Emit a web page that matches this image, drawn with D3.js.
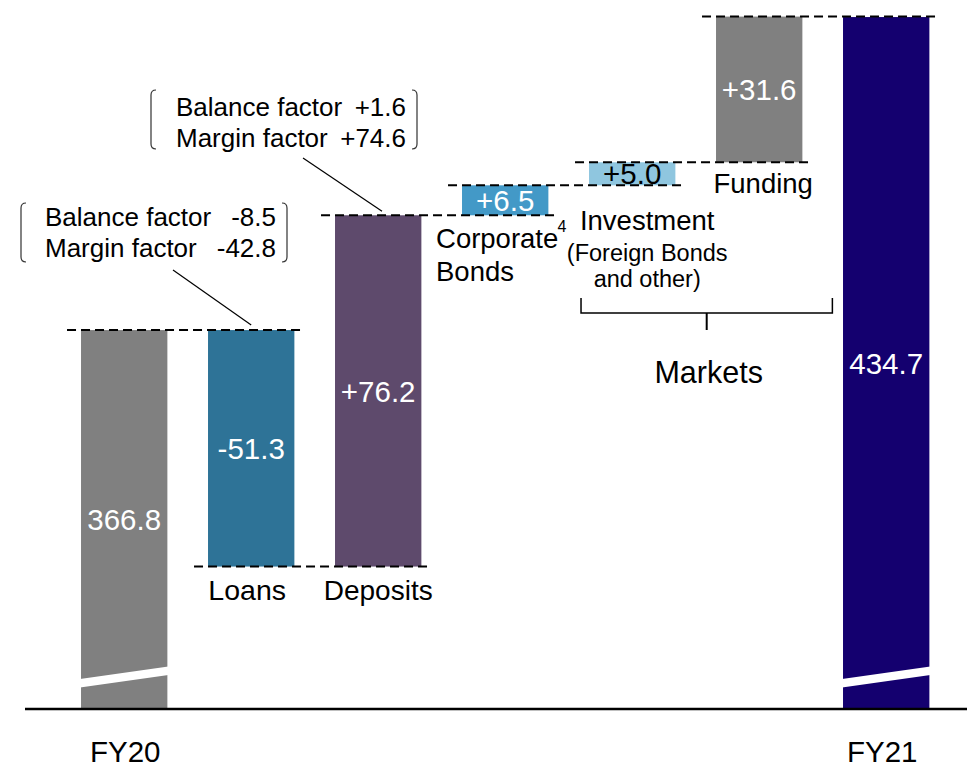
<!DOCTYPE html>
<html>
<head>
<meta charset="utf-8">
<script src="https://cdn.jsdelivr.net/npm/d3@7"></script>
<style>
  html, body { margin: 0; padding: 0; background: #fff; }
  svg { display: block; font-family: "Liberation Sans", Arial, sans-serif; }
</style>
</head>
<body>
<svg id="chart" width="967" height="769"></svg>
<script>
// ---------------- data ----------------
const categories = ["FY20", "Loans", "Deposits", "Corporate Bonds", "Investment", "Funding", "FY21"];
const values = [366.8, -51.3, 76.2, 6.5, 5.0, 31.6, 434.7];
const kinds = ["total", "delta", "delta", "delta", "delta", "delta", "total"];
const valueLabels = ["366.8", "-51.3", "+76.2", "+6.5", "+5.0", "+31.6", "434.7"];
const barColors = ["#808080", "#2e7397", "#5e4a6c", "#4399c7", "#8fc6df", "#808080", "#14006f"];
const valueTextColors = ["#fff", "#fff", "#fff", "#fff", "#000", "#fff", "#fff"];
const loansFactors = [["Balance factor", "-8.5"], ["Margin factor", "-42.8"]];
const depositsFactors = [["Balance factor", "+1.6"], ["Margin factor", "+74.6"]];
const groupLabel = "Markets";

// ---------------- layout ----------------
const svg = d3.select("#chart");
const W = 967, H = 769;
const baselineY = 709;
const axisFloor = 284.6, axisTop = 438.4; // broken axis: bars start from floor

const x = d3.scaleBand().domain(categories).range([60.7, 949.7])
  .paddingInner(0.32).paddingOuter(0.16);
const y = d3.scaleLinear().domain([axisFloor, axisTop]).range([baselineY, 0]);
const bw = x.bandwidth();

// compute start/end for waterfall
let running = 0;
const bars = categories.map((c, i) => {
  let start, end;
  if (kinds[i] === "total") { start = axisFloor; end = values[i]; running = values[i]; }
  else { start = running; end = running + values[i]; running = end; }
  return { cat: c, i, start, end, level: end };
});

// bars
svg.append("g").selectAll("rect").data(bars).join("rect")
  .attr("x", d => x(d.cat))
  .attr("y", d => y(Math.max(d.start, d.end)))
  .attr("width", bw)
  .attr("height", d => Math.abs(y(d.start) - y(d.end)))
  .attr("fill", d => barColors[d.i]);

// axis-break marks on total bars
bars.filter(d => kinds[d.i] === "total").forEach(d => {
  const x0 = x(d.cat) - 1, x1 = x(d.cat) + bw + 1;
  const yl = baselineY - 30, yr = baselineY - 42.5, t = 8.5;
  svg.append("path")
    .attr("d", `M${x0},${yl} L${x1},${yr} L${x1},${yr + t} L${x0},${yl + t} Z`)
    .attr("fill", "#fff");
});

// connectors (dashed)
for (let i = 0; i < bars.length - 1; i++) {
  const lv = y(bars[i].level);
  svg.append("line")
    .attr("x1", x(categories[i]) - 14).attr("x2", x(categories[i + 1]) + bw + 8)
    .attr("y1", lv).attr("y2", lv)
    .attr("stroke", "#000").attr("stroke-width", 2)
    .attr("stroke-dasharray", "9,5");
}

// baseline
svg.append("line").attr("x1", 25).attr("x2", W).attr("y1", baselineY).attr("y2", baselineY)
  .attr("stroke", "#000").attr("stroke-width", 2.5);

// value labels
svg.append("g").selectAll("text").data(bars).join("text")
  .attr("x", d => x(d.cat) + bw / 2)
  .attr("y", d => (y(d.start) + y(d.end)) / 2)
  .attr("dy", "0.36em")
  .attr("text-anchor", "middle")
  .attr("font-size", 29.5)
  .attr("fill", d => valueTextColors[d.i])
  .text(d => valueLabels[d.i]);

// category labels
function label(txt, px, py, size, anchor) {
  return svg.append("text").attr("x", px).attr("y", py)
    .attr("font-size", size).attr("text-anchor", anchor || "middle")
    .attr("fill", "#000").text(txt);
}
const cx = c => x(c) + bw / 2;
label("FY20", cx("FY20") + 1, 762, 29.5);
label("FY21", cx("FY21") - 4, 762, 29.5);
label("Loans", cx("Loans") - 4, 600, 28.5);
label("Deposits", cx("Deposits"), 600, 28);
// Corporate Bonds
label("Corporate", x("Corporate Bonds") - 26, 248, 27.5, "start");
label("Bonds", x("Corporate Bonds") - 26, 281, 27.5, "start");
label("4", x("Corporate Bonds") + bw + 9, 232, 16, "start");
// Investment
const invC = cx("Investment") + 15;
label("Investment", invC, 230, 27.5);
label("(Foreign Bonds", invC, 261, 23.5);
label("and other)", invC, 287, 23.5);
// Funding
label("Funding", cx("Funding") + 4, 193, 27.5);

// Markets bracket
const mL = x("Investment") - 8, mR = x("Funding") + bw + 30, mY = 313;
svg.append("path")
  .attr("d", `M${mL},298 V${mY} H${mR} V298`)
  .attr("fill", "none").attr("stroke", "#000").attr("stroke-width", 1.5);
svg.append("line").attr("x1", (mL + mR) / 2).attr("x2", (mL + mR) / 2)
  .attr("y1", mY).attr("y2", 330).attr("stroke", "#000").attr("stroke-width", 2);
label(groupLabel, (mL + mR) / 2 + 2, 383, 30.5);

// annotations
function annotation(lines, bx0, bx1, by0, by1, tl, tr, baselines, leader) {
  const r = 5;
  svg.append("path")
    .attr("d", `M${bx0 + r},${by0} Q${bx0},${by0} ${bx0},${by0 + r} V${by1 - r} Q${bx0},${by1} ${bx0 + r},${by1}`)
    .attr("fill", "none").attr("stroke", "#333").attr("stroke-width", 1.2);
  svg.append("path")
    .attr("d", `M${bx1 - r},${by0} Q${bx1},${by0} ${bx1},${by0 + r} V${by1 - r} Q${bx1},${by1} ${bx1 - r},${by1}`)
    .attr("fill", "none").attr("stroke", "#333").attr("stroke-width", 1.2);
  lines.forEach((ln, k) => {
    label(ln[0], tl, baselines[k], 26, "start");
    label(ln[1], tr, baselines[k], 26, "end");
  });
  svg.append("line")
    .attr("x1", leader[0]).attr("y1", leader[1]).attr("x2", leader[2]).attr("y2", leader[3])
    .attr("stroke", "#000").attr("stroke-width", 1.2);
}
annotation(loansFactors, 21, 287, 203, 262, 45, 276, [226, 257],
  [173, 270, x("Loans") + bw / 2, y(bars[0].level) - 5]);
annotation(depositsFactors, 151, 417, 90, 149, 176, 406, [116, 147],
  [303, 158, x("Deposits") + 47, y(bars[2].level) - 4]);
</script>
</body>
</html>
